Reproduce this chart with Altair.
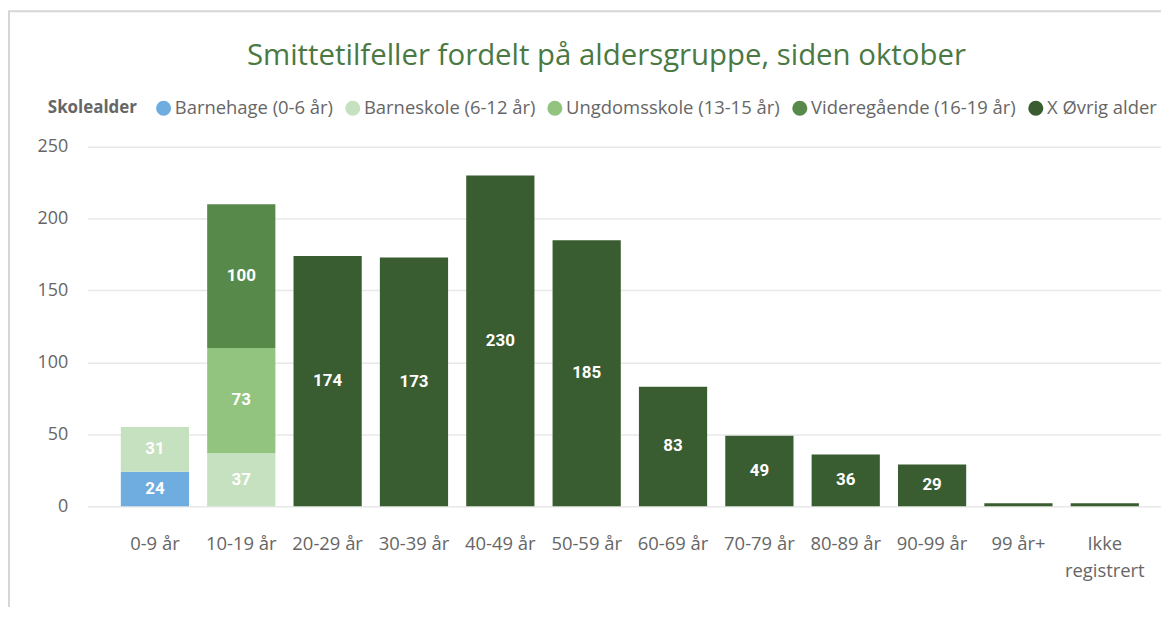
import altair as alt
import pandas as pd

ages = ["0-9 år", "10-19 år", "20-29 år", "30-39 år", "40-49 år", "50-59 år",
        "60-69 år", "70-79 år", "80-89 år", "90-99 år", "99 år+", "Ikke registrert"]
groups = ["Barnehage (0-6 år)", "Barneskole (6-12 år)", "Ungdomsskole (13-15 år)",
          "Videregående (16-19 år)", "X Øvrig alder"]
colors = ["#6FADE1", "#C6E1C0", "#92C47F", "#578A4A", "#3A5C31"]

barnehage = [24, 0, 0, 0, 0, 0, 0, 0, 0, 0, 0, 0]
barneskole = [31, 37, 0, 0, 0, 0, 0, 0, 0, 0, 0, 0]
ungdomsskole = [0, 73, 0, 0, 0, 0, 0, 0, 0, 0, 0, 0]
videregaende = [0, 100, 0, 0, 0, 0, 0, 0, 0, 0, 0, 0]
ovrig = [0, 0, 174, 173, 230, 185, 83, 49, 36, 29, 2, 2]

rows = []
for gi, (g, vals) in enumerate(zip(groups, [barnehage, barneskole, ungdomsskole, videregaende, ovrig])):
    for a, v in zip(ages, vals):
        if v > 0:
            rows.append({"age": a, "group": g, "gi": gi, "value": v})
df = pd.DataFrame(rows)

FONT = "Open Sans"
GRAY = "#666666"

xscale = alt.Scale(paddingInner=0.21, paddingOuter=0.32, align=0.6)
xenc = alt.X("age:N", sort=ages, scale=xscale, title=None,
             axis=alt.Axis(labelAngle=0, domain=False, ticks=False, labelFontSize=18.5,
                           labelColor=GRAY, labelFont=FONT, labelPadding=29, labelLineHeight=27,
                           labelExpr="datum.label == 'Ikke registrert' ? ['Ikke', 'registrert'] : datum.label"))

base = alt.Chart(df).transform_stack(
    stack="value", groupby=["age"], as_=["v0", "v1"],
    sort=[alt.SortField("gi", order="ascending")]
).transform_calculate(mid="(datum.v0 + datum.v1) / 2")

bars = base.mark_bar().encode(
    x=xenc,
    y=alt.Y("v0:Q", scale=alt.Scale(domain=[0, 250], nice=False), title=None,
            axis=alt.Axis(values=[0, 50, 100, 150, 200, 250], domain=False, ticks=False,
                          gridColor="#e8e8e8", gridWidth=1.5, labelFontSize=18, labelColor=GRAY,
                          labelFont=FONT, labelPadding=20)),
    y2="v1:Q",
    color=alt.Color("group:N", scale=alt.Scale(domain=groups, range=colors),
                    legend=alt.Legend(title="Skolealder", orient="none", legendX=-40, legendY=-48,
                                      direction="horizontal", titleOrient="left",
                                      titleFontWeight="bold", titleColor=GRAY, titleFontSize=17,
                                      titleFont=FONT, labelFont=FONT, labelFontSize=18.5,
                                      labelColor=GRAY, symbolType="circle", symbolSize=230,
                                      symbolStrokeWidth=0, columnPadding=10, labelOffset=2,
                                      titlePadding=17, labelLimit=400)),
    order=alt.Order("gi:Q"),
)

labels = base.transform_filter("datum.value >= 10").mark_text(
    color="white", fontWeight="bold", font="Roboto", fontSize=17, baseline="middle"
).encode(x=alt.X("age:N", sort=ages, scale=xscale), y=alt.Y("mid:Q"), text="value:Q")

frame_df = pd.DataFrame({"k": [0]})
left_line = alt.Chart(frame_df).mark_rule(color="#d6d6d6", strokeWidth=2).encode(
    x=alt.value(-79), y=alt.value(-136), y2=alt.value(480))
top_line = alt.Chart(frame_df).mark_rule(color="#d6d6d6", strokeWidth=2).encode(
    x=alt.value(-80), x2=alt.value(1081), y=alt.value(-136))

chart = alt.layer(bars, labels, left_line, top_line).properties(
    width=1078, height=361,
    autosize=alt.AutoSizeParams(type="none"),
    padding={"left": 80, "top": 138, "right": 0, "bottom": 100},
    title=alt.TitleParams("Smittetilfeller fordelt på aldersgruppe, siden oktober",
                          fontSize=29.5, color="#4A7944", font=FONT, fontWeight="normal",
                          anchor="middle", frame="group", dx=-18, offset=0, dy=90,
                          baseline="bottom"),
).configure_view(stroke=None)

chart.save("out.html", embed_options={"renderer": "svg", "actions": False})
